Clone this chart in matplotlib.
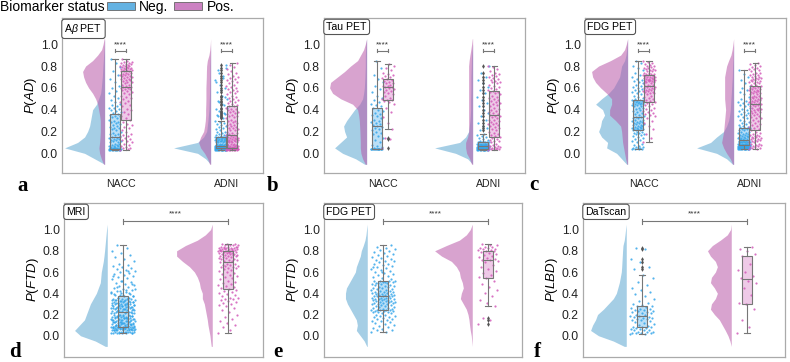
import numpy as np
import matplotlib
matplotlib.use("Agg")
import matplotlib.pyplot as plt
from matplotlib.patches import Patch

plt.rcParams['font.family'] = ['Liberation Sans', 'DejaVu Sans']
plt.rcParams['mathtext.fontset'] = 'custom'
plt.rcParams['mathtext.it'] = 'Liberation Sans:italic'
plt.rcParams['mathtext.rm'] = 'Liberation Sans'


def vals(s):
    # values typed as hundredths
    return np.array(s.split(), dtype=float) / 100


# ---------------- data ----------------
cohorts = ['NACC', 'ADNI']
dens_y = np.round(np.arange(-0.10, 1.051, 0.05), 2)   # heights where the densities were read

# panel a : Abeta PET, P(AD)
a_nacc_neg = vals("""03 03 03 03 03 03 03 03 03 04 04 04 04 04 04 04 04 04 04 04 04 04 04 04 04
05 05 05 05 06 06 06 07 07 07 08 08 09 09 10 10 11 11 12 12 13 13 14 14 15
16 17 18 18 19 20 21 22 23 23 24 25 26 27 28 29 29 30 31 32 33 34 34 35 36
37 38 39 40 41 42 42 43 44 45 47 49 51 53 55 57 60 62 65 68 72 75 79 83 86""")
a_nacc_pos = vals("""03 04 05 05 06 07 08 09 10 11 12 13 14 15 16 17 18 20 21 23 24 26 27 29 31
32 34 36 38 40 41 43 44 46 47 48 50 51 52 53 54 55 56 57 58 59 59 60 60 61
61 62 63 63 64 65 65 66 67 67 68 68 69 70 70 71 71 72 72 73 73 74 74 75 75
75 76 76 76 77 77 77 78 78 78 79 79 80 80 80 81 81 82 82 83 83 84 84 85 86""")
a_adni_neg = vals("""03 03 03 03 03 03 03 03 03 03 03 03 04 04 04 04 04 04 04 04 04 04 04 04 04 04 04 04 04 04 05 05 05 05 05
05 05 05 05 05 05 05 05 05 05 06 06 06 06 06 06 06 06 06 06 06 06 06 06 07 07 07 07 07 07 07 07 07 07 07
07 07 08 08 08 08 08 09 09 09 09 10 10 10 10 11 11 11 11 12 12 12 12 13 13 13 13 14 14 14 14 15 15 15 15
16 16 17 17 18 18 19 20 20 21 22 23 24 25 26 27 28 29 30 32 34 36 38 41 44 47 50 53 56 60 63 67 71 76 81
33 35 37 39 42 45 48 52 58 65 69 74 78""")
a_adni_pos = vals("""03 03 03 03 03 03 03 03 04 04 04 04 04 04 04 04 04 04 04 04 04 04 05 05 05 05 05 05 05 05 05 05 05 05 05
06 06 06 06 07 07 07 07 08 08 08 09 09 09 10 10 10 11 11 11 12 12 12 13 13 13 14 14 14 15 15 16 16 17 17
18 19 19 20 21 21 22 23 23 24 25 26 26 27 28 29 30 30 31 32 33 34 34 35 36 37 38 38 39 40 41 41 42 43 43
44 45 46 47 48 49 50 51 52 53 54 55 56 57 58 59 60 61 62 63 64 65 66 67 68 69 70 71 73 74 75 77 79 81 83""")
a_box = [[0.03, 0.04, 0.15, 0.36, 0.86], [0.03, 0.31, 0.61, 0.75, 0.86],
         [0.03, 0.045, 0.07, 0.15, 0.30], [0.03, 0.05, 0.17, 0.43, 0.83]]
a_kde = [[0, 10, 20, 40, 27, 20, 17, 15, 14, 13, 12, 8, 6, 4, 3.3, 2.8, 2.3, 2, 1.7, 1.3, 1, 0.6, 0.3, 0],
         [1, 3.3, 5, 5.7, 5, 4.6, 4.3, 4.3, 4.3, 5, 6, 7, 9, 12, 16, 19, 21, 22, 19, 12, 7, 3, 1.5, 0.5],
         [0, 5, 13, 37, 13, 7, 4, 3.3, 2.7, 2.2, 1.7, 1.5, 1.3, 1.1, 1, 0.9, 0.8, 0.7, 0.7, 0.5, 0.3, 0.1, 0, 0],
         [1, 3, 6, 10, 12, 10, 7, 6, 5.3, 5, 5, 4.8, 4.7, 4.7, 4.7, 4.5, 4.3, 4.2, 4, 3.3, 1.7, 0.8, 0.3, 0]]

# panel b : Tau PET, P(AD)
b_nacc_neg = vals("""04 04 04 04 04 04 04 04 04 04 04 04 04 04 04
05 06 07 08 10 12 14 16 18 19 20 21 22 23 24
25 26 27 28 29 30 31 32 34 35 36 37 39 40 42
43 44 45 47 49 51 53 56 59 62 65 68 72 78 85""")
b_nacc_pos = vals("""05 13 14 22 28 33 38 42 45 47 48 49 49 50 51 53 54 55 56 57 58 59 60 61
61 62 62 63 64 64 65 66 67 68 69 70 71 72 73 74 76 78 80 82""")
b_adni_neg = vals("""03 03 03 03 03 03 03 03 03 03 04 04 04 04 04 04 04 04 04 04 04 04 04 04 04 04 04 04
05 05 05 05 05 05 05 05 05 05 06 06 06 06 06 06 06 06 06 06 07 07 07 07 07 07 07 07
07 07 07 07 08 08 08 08 08 08 08 08 09 09 09 09 09 09 09 09 10 10 10 10 10 10 10
11 12 13 14 15 16 17 18 21 23 25 28 31 34 37 40 43 46 49 52 55 58 61 64 67 70 74 80""")
b_adni_pos = vals("""03 04 04 04 04 05 05 05 06 06 07 07 08 08 09 10 11 11 12 13 14 15
16 17 18 19 20 21 22 23 24 25 26 27 27 28 29 30 31 31 32 33 34 34 35
36 37 38 39 40 41 42 43 44 45 46 47 48 49 50 51 52 53 54 55 56 56 57
58 59 60 61 62 63 64 65 65 66 67 68 69 70 71 72 73 74 75 77 79 80""")
b_box = [[0.04, 0.04, 0.25, 0.42, 0.85], [0.22, 0.49, 0.61, 0.68, 0.82],
         [0.03, 0.04, 0.07, 0.10, 0.18], [0.03, 0.15, 0.35, 0.57, 0.80]]
b_kde = [[2, 11, 24, 32, 26, 20, 22, 23, 20, 16, 12, 7, 4, 3, 2.3, 2, 1.7, 1.5, 1.3, 1.3, 1.3, 1, 0.7, 0],
         [1.3, 4, 5.7, 6.3, 6.3, 6.5, 6.7, 7, 7.3, 8, 9, 14, 26, 34, 37, 36, 29, 22, 16, 9, 6, 3, 1.3, 0],
         [0, 5, 17, 38, 13, 7, 4, 3.3, 2.7, 2.3, 2, 2, 2, 1.8, 1.7, 1.7, 1.7, 1.5, 1.3, 1.2, 1, 0.5, 0, 0],
         [1, 3, 6, 7, 7, 5, 4, 4, 4, 4, 4, 4, 4, 4, 4, 4, 4, 4, 4, 3.5, 2.7, 1.8, 1, 0.3]]

# panel c : FDG PET, P(AD)
c_nacc_neg = vals("""04 04 04 04 05 05 05 06 06 07 08 09 10 11 12 13 14 15 16 17 18 18 19 19 20 20 21
21 21 22 22 22 23 23 23 24 24 25 25 26 26 27 27 28 28 29 29 30 30 31 31 32 32 33 33
34 35 36 37 38 39 40 41 42 42 43 43 44 44 45 45 45 46 46 46 47 47 47 48 48 48 49 49
50 51 52 53 54 55 56 57 58 59 60 61 62 63 64 65 66 67 68 70 72 74 76 78 80 83 85""")
c_nacc_pos = vals("""10 14 18 22 25 28 30 32 34 35 36 37 38 39 40 41 42 43 44 45 46 47
48 49 50 51 52 53 54 55 55 56 56 57 57 58 58 59 59 60 60 61 61 62 62
63 63 64 64 65 65 66 66 66 67 67 67 68 68 68 69 69 70 70 70 71 71 72
72 73 73 73 74 74 75 75 76 76 77 77 78 78 79 80 80 81 82 83 84 85""")
c_adni_neg = vals("""04 04 04 04 04 04 04 04 04 04 04 04 05 05 05 05 05 05 05 05 05 05 05 05 05 05
06 06 06 06 06 06 06 06 06 06 06 06 06 06
07 07 07 07 07 07 07 07 07 07 08 08 08 08 08 08 08 08 08 08
09 09 09 09 09 09 09 09 09 09 10 10 10 10 10 10 10 10 10 10
11 11 11 12 12 12 13 13 13 14 14 14 15 15 15 16 16 16 17 17 18 18 19 19 20 20 21 21 22 22 23 23 24 24 25
26 27 28 29 30 31 32 33 34 35 36 37 38 39 40 41 42 43 44 45 46 47 48 50 52 54 56 58 60 62 64 67 70 73 76""")
c_adni_pos = vals("""04 04 05 05 06 06 07 07 08 08 09 09 10 10 11 11 12 12 13 13 14 14 15 15 16 16 17 17 18 19 20 21
22 23 24 25 26 27 28 29 30 31 32 32 33 34 35 35 36 37 38 38 39 40 40 41 41 42 42 43 43 44 44 45 45
46 46 47 47 48 48 49 49 50 50 51 51 52 52 53 53 54 54 55 55 56 56 57 57 58 58 59 59 60 60 61 61 62
63 63 64 64 65 65 66 66 67 67 68 68 69 69 70 70 71 72 72 73 74 74 75 76 77 77 78 79 80 81 82 83""")
c_box = [[0.04, 0.21, 0.33, 0.49, 0.85], [0.10, 0.47, 0.62, 0.72, 0.85],
         [0.04, 0.075, 0.12, 0.23, 0.76], [0.04, 0.21, 0.45, 0.62, 0.83]]
c_kde = [[1, 6, 11, 21, 20, 26, 29, 27, 26, 23, 25, 32, 26, 19, 14, 11, 8, 7, 6, 3, 1.7, 1, 0.5, 0],
         [0.7, 2, 3, 4, 5, 5.5, 6, 7, 12, 18, 18, 16, 16, 21, 27, 32, 35, 36, 29, 17, 7, 3, 1.3, 0],
         [1, 7, 17, 37, 23, 17, 10, 7, 5, 4, 3.3, 3, 2.7, 2.3, 2, 1.7, 1.3, 1.2, 1, 0.7, 0.5, 0.2, 0, 0],
         [1, 3.3, 7, 10, 12, 11, 10, 9.5, 9, 8.5, 8, 8.5, 9, 9, 9, 9, 9, 8, 7, 5, 2.7, 1.5, 0.7, 0]]

# panel d : MRI, P(FTD)
d_neg = vals("""03 03 03 03 03 03 04 04 04 04 04 04 04 05 05 05 05 05 05 05 06 06 06 06 06 06 07 07 07 07 07 07 08 08 08 08 08 08 08 08
09 09 09 10 10 10 11 11 11 12 12 12 13 13 13 14 14 14 15 15 15 16 16 16 17 17 17 18 18 18 19 19 19 20 20 20 21 21 22 22
23 23 24 24 25 25 25 26 26 26 27 27 27 28 28 28 29 29 29 30 30 30 31 31 31 32 32 32 33 33 34 34 34 35 35 35 36 36 37 37
38 39 40 41 41 42 43 44 45 46 47 48 49 50 51 52 53 54 55 56 57 58 59 60 61 62 63 64 65 66 67 68 70 72 74 76 78 80 83 85
03 04 05 06 07 08 09 10 11 12 13 14 15 16 17 18 19 20 21 22 23 24 25 26 27 28 29 30 31 32 33 34 35 36 37 38 39 40 42 44
04 05 06 07 08 09 10 11 12 13 14 15 16 17 18 19 20 21 22 23 24 25 26 27 28 29 30 31 32 33 34 36 38 40 43 46 49 52 56 61
03 05 07 09 11 13 15 17 19 21""")
d_pos = vals("""03 05 08 10 12 14 16 18 20 22 24 26 28 29 30 31 32 33 34 35 35 36 36 37 38 39 40 41 42 43
44 45 46 47 48 49 50 51 52 53 54 55 56 57 58 59 60 61 62 63 64 64 65 65 66 66 67 67 68 68
69 70 70 71 71 72 72 73 73 74 74 75 75 75 76 76 76 77 77 77 78 78 78 79 79 79 80 80 80 80
80 80 81 81 81 81 82 82 82 82 83 83 83 83 84 84 84 84 85 85 85 85 86 86 86 81 82 83 84 79""")
d_box = [[0.03, 0.085, 0.22, 0.37, 0.85], [0.03, 0.44, 0.69, 0.80, 0.86]]
d_kde = [[2, 12, 27, 33, 28, 23, 21, 19, 17, 14, 11, 9, 7, 6.5, 6, 5, 4, 3.3, 2.7, 2.2, 1.7, 1.2, 0.7, 0],
         [1, 1.7, 2.3, 3.3, 4.3, 5, 6, 7, 8, 10, 10, 12, 13, 15, 18, 23, 30, 36, 36, 27, 15, 7, 1.7, 0]]

# panel e : FDG PET, P(FTD)
e_neg = vals("""04 04 05 05 06 07 08 09 10 11 12 13 14 14 15 16 16 17 18 18 19 19 20 20 21 21 22 22 22 23 23 23 24 24 24 24 24
25 25 26 26 27 27 28 28 29 29 30 30 30 31 31 31 32 32 32 33 33 33 34 34 34 35 35 35 35 36 36 36 36 37 37 37 37 37
38 38 38 39 39 39 40 40 40 41 41 41 42 42 43 43 44 44 45 45 46 46 47 47 48 48 49 49 50 50 51 51 52 52 52 52 51 50
53 54 55 56 57 58 59 60 61 62 63 64 65 66 67 68 68 69 70 70 71 72 73 74 75 76 77 78 79 80 81 82 83 84 85 60 65""")
e_pos = vals("""11 15 17 28 31 34 37 40 43 46 49 52 54 55 57 59 61 63 65 67 69 70 71
71 72 73 74 75 76 77 78 79 80 80 81 81 82 82 83 83 84 84 85 85 86""")
e_box = [[0.04, 0.24, 0.37, 0.52, 0.85], [0.28, 0.54, 0.71, 0.80, 0.86]]
e_kde = [[0.5, 3, 7, 11, 10, 11, 14, 17, 20, 22, 22, 21, 18, 15, 12, 11, 9, 7, 6, 4, 2.3, 1.3, 0.7, 0],
         [0, 0.5, 1, 2, 2.7, 3.3, 4.3, 6, 9, 12, 11, 9, 10, 12, 13, 16, 21, 31, 38, 26, 13, 6, 2, 0]]

# panel f : DaTscan, P(LBD)
f_neg = vals("""02 02 03 03 03 03 04 04 04 05 05 05 06 06 07 07 08 08 08
09 10 11 12 13 14 15 15 16 16 17 17 18 18 19 19 20 20 21 21 22 22 23 23 24 24 25 25 26 27 28 28
29 30 31 33 35 37 39 41 43 45 48 51 54 57 63 65 69 72 82 83""")
f_pos = vals("03 08 15 25 30 31 38 45 50 52 54 56 60 62 68 75 77 80 82 84")
f_box = [[0.02, 0.08, 0.19, 0.28, 0.57], [0.03, 0.30, 0.53, 0.75, 0.84]]
f_kde = [[2, 13, 28, 36, 34, 31, 29, 23, 18, 13, 10, 8.5, 7, 6, 5, 4.6, 4.3, 4, 3.7, 3.3, 2, 1.3, 0.7, 0],
         [0, 1.3, 3.3, 6, 9, 12, 17, 21, 20, 16, 14, 17, 21, 20, 16, 14, 16, 21, 24, 19, 11, 4, 0.7, 0]]

# ---------------- style ----------------
kde_col = ['#5ba6d1', '#b958a8']
pt_col = ['#35a6ea', '#d35bb9']
box_col = ['#8fcaf0', '#e4a8d8']
gray = '#777777'


def half_violin(ax, x, dens, c):
    d = np.array(dens) / 106.0
    ax.fill_betweenx(dens_y, x - d, x, color=c, alpha=0.55, lw=0, zorder=1)


def strip(ax, x, v, c, hw):
    off = ((np.arange(len(v)) * 0.6180339887) % 1.0 - 0.5) * 2 * hw
    ax.scatter(x + off, v, s=2.5, color=c, alpha=0.85, lw=0, zorder=2)


def box(ax, x, st, v, face, w=0.1):
    lo, q1, med, q3, hi = st
    fl = v[(v < lo - 0.005) | (v > hi + 0.005)]
    stats = [dict(whislo=lo, q1=q1, med=med, q3=q3, whishi=hi, fliers=fl)]
    ax.bxp(stats, positions=[x], widths=w, patch_artist=True, showfliers=False,
           manage_ticks=False, zorder=1.5,
           boxprops=dict(facecolor=face, edgecolor='none', alpha=0.6),
           whiskerprops=dict(lw=0), capprops=dict(lw=0), medianprops=dict(lw=0))
    ax.bxp(stats, positions=[x], widths=w, patch_artist=True, manage_ticks=False,
           zorder=3,
           boxprops=dict(facecolor='none', edgecolor=gray, lw=0.8),
           whiskerprops=dict(color=gray, lw=0.8), capprops=dict(color=gray, lw=0.8),
           medianprops=dict(color=gray, lw=0.8),
           flierprops=dict(marker='d', ms=2.4, mfc='#555555', mec='none'))


def style(ax, ylab, title, ylim):
    ax.set_ylim(*ylim)
    ax.set_yticks([0, 0.2, 0.4, 0.6, 0.8, 1.0])
    ax.set_yticklabels(['0.0', '0.2', '0.4', '0.6', '0.8', '1.0'])
    ax.tick_params(length=0, labelsize=8.8, colors='#222222', pad=3)
    ax.tick_params(axis='x', labelsize=7.6, pad=4)
    for s in ax.spines.values():
        s.set_color('#aaaaaa')
        s.set_linewidth(0.9)
    ax.set_ylabel(ylab, fontsize=9.5, labelpad=1.5)
    ax.text(0.012, 0.975, title, transform=ax.transAxes, fontsize=7.6, va='top', ha='left',
            bbox=dict(boxstyle='round,pad=0.25', fc='white', ec='#555555', lw=0.8), zorder=5)


fig = plt.figure(figsize=(7.9, 3.62), dpi=100)
W, H = 790.0, 362.0

top = [(62, a_box, a_kde, [a_nacc_neg, a_nacc_pos, a_adni_neg, a_adni_pos], 'A$\\beta$ PET'),
       (324, b_box, b_kde, [b_nacc_neg, b_nacc_pos, b_adni_neg, b_adni_pos], 'Tau PET'),
       (585, c_box, c_kde, [c_nacc_neg, c_nacc_pos, c_adni_neg, c_adni_pos], 'FDG PET')]
for left, bx, kd, pts, title in top:
    ax = fig.add_axes([left / W, 1 - 173 / H, 201 / W, 155 / H])
    for ci in range(2):
        for gi in range(2):
            k = ci * 2 + gi
            half_violin(ax, ci - 0.15, kd[k], kde_col[gi])
            xc = ci + (-0.053 if gi == 0 else 0.053)
            strip(ax, xc, pts[k], pt_col[gi], 0.058)
            box(ax, xc, bx[k], pts[k], box_col[gi])
        # significance bracket
        ax.plot([ci - 0.053, ci + 0.053], [0.94, 0.94], color=gray, lw=0.8, zorder=3)
        for xe in (ci - 0.053, ci + 0.053):
            ax.plot([xe, xe], [0.925, 0.955], color=gray, lw=0.8, zorder=3)
        ax.text(ci, 0.96, '****', fontsize=6, ha='center', va='bottom', color='#333333')
    ax.set_xlim(-0.552, 1.344)
    ax.set_xticks([0, 1])
    ax.set_xticklabels(cohorts)
    style(ax, '$P(AD)$', title, (-0.18, 1.24))

bottom = [(64, 199, d_box, d_kde, [d_neg, d_pos], 'MRI', '$P(FTD)$'),
          (324, 198, e_box, e_kde, [e_neg, e_pos], 'FDG PET', '$P(FTD)$'),
          (583, 202, f_box, f_kde, [f_neg, f_pos], 'DaTscan', '$P(LBD)$')]
for left, wd, bx, kd, pts, title, ylab in bottom:
    ax = fig.add_axes([left / W, 1 - 357 / H, wd / W, 154 / H])
    for gi in range(2):
        half_violin(ax, gi - 0.15, kd[gi], kde_col[gi])
        strip(ax, gi, pts[gi], pt_col[gi], 0.115 if gi == 0 else 0.095)
        box(ax, gi, bx[gi], pts[gi], box_col[gi])
    ax.plot([0, 1], [1.077, 1.077], color=gray, lw=0.8, zorder=3)
    for xe in (0, 1):
        ax.plot([xe, xe], [1.052, 1.102], color=gray, lw=0.8, zorder=3)
    ax.text(0.5, 1.115, '****', fontsize=6, ha='center', va='bottom', color='#333333')
    ax.set_xlim(-0.562, -0.562 + wd / 105.0)
    ax.set_xticks([])
    style(ax, ylab, title, (-0.2, 1.25))

# panel letters
for lab, x, y in [('a', 23, 191), ('b', 273, 191), ('c', 534, 190),
                  ('d', 15, 357), ('e', 278, 357), ('f', 537, 357)]:
    fig.text(x / W, 1 - y / H, lab, fontsize=15, fontweight='bold',
             family='Liberation Serif', ha='center', va='baseline')

# legend
fig.text(0.0, 1 - 7 / H, 'Biomarker status', fontsize=10, va='center', ha='left')
handles = [Patch(facecolor='#64b2e2', edgecolor='#666666', lw=0.6, label='Neg.'),
           Patch(facecolor='#cc82c2', edgecolor='#666666', lw=0.6, label='Pos.')]
fig.legend(handles=handles, loc='upper left', bbox_to_anchor=(107 / W, 1.0), ncol=2,
           frameon=False, fontsize=10, handlelength=2.0, handleheight=0.5,
           handletextpad=0.3, columnspacing=0.45, borderpad=0, borderaxespad=0)

fig.savefig('out.png', dpi=100)
